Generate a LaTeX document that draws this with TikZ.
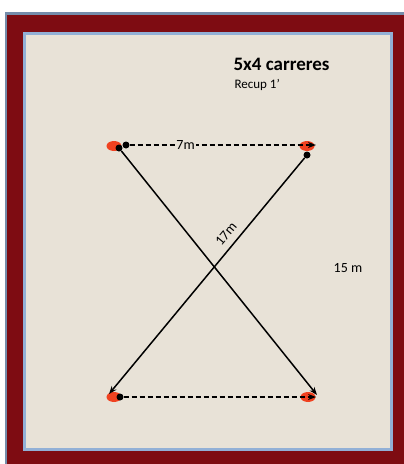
\documentclass[tikz,border=0pt]{standalone}
\usepackage{fontspec}
\setmainfont{Carlito}
\usetikzlibrary{arrows.meta, shapes.geometric}

\definecolor{sand}{RGB}{232,226,215}
\definecolor{framered}{RGB}{126,12,18}
\definecolor{edgeblue}{RGB}{146,176,214}
\definecolor{conered}{RGB}{240,66,32}

\begin{document}
\begin{tikzpicture}[x=1pt, y=-1pt,
  cone/.style={ellipse, fill=conered, inner sep=0pt, minimum width=15pt, minimum height=10pt},
  dot/.style={circle, fill=black, inner sep=0pt, minimum size=7pt},
  run/.style={-{Stealth[length=8pt,width=6pt]}, line width=1.5pt},
  back/.style={run, dash pattern=on 5pt off 3pt},
  lbl/.style={font=\fontsize{14}{16}\selectfont}]
  \useasboundingbox (0,0) rectangle (404,464);
  % frame
  \fill[white] (0,0) rectangle (404,464);
  \fill[edgeblue!80!black] (5,12) rectangle (404,464);
  \fill[framered] (7,15) rectangle (404,464);
  \fill[edgeblue] (23,32) rectangle (393,451);
  \fill[sand] (26,35) rectangle (390,448);

  % title
  \node[anchor=west, font=\fontsize{19}{21}\selectfont\bfseries] (title) at (230,64) {5x4 carreres};
  \node[anchor=west, font=\fontsize{13}{15}\selectfont] (rest) at (231,85) {Recup 1’};

  % cones
  \node[cone] (tl) at (114,146) {};
  \node[cone] (tr) at (307,146) {};
  \node[cone] (bl) at (114,397) {};
  \node[cone] (br) at (308,397) {};

  % runner positions
  \node[dot] (tla) at (119,148) {};
  \node[dot] (tlb) at (126,145) {};
  \node[dot] (tra) at (307,155) {};
  \node[dot] (bla) at (120,397) {};
  \coordinate (trend) at (316,145);
  \coordinate (blend) at (109,394);
  \coordinate (brend) at (317,395);
  \coordinate (brback) at (316,397);

  % diagonals
  \draw[run] (tla) -- (brend);
  \draw[run] (tra) -- (blend);
  \node[lbl, rotate=50, inner sep=1pt] (diag) at (226,234) {17m};
  % walking back
  \draw[back] (tlb) -- (trend)
    node[pos=0.3, lbl, fill=sand, inner sep=1pt] (side) {7m};
  \draw[back] (bla) -- (brback);

  \node[lbl] (dist) at (348,268) {15 m};
\end{tikzpicture}
\end{document}
